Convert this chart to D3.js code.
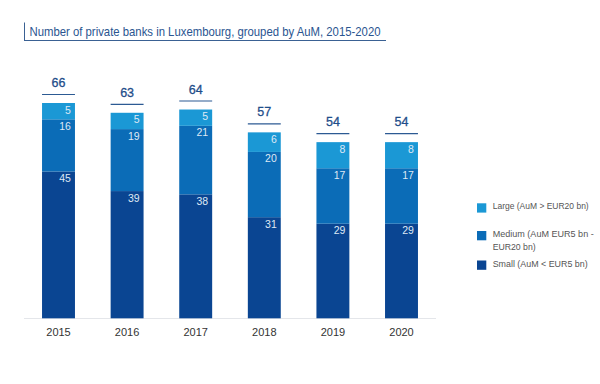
<!DOCTYPE html>
<html><head><meta charset="utf-8">
<script src="https://cdn.jsdelivr.net/npm/d3@7/dist/d3.min.js"></script>
<style>
html,body{margin:0;padding:0;background:#fff;}
svg{display:block;font-family:"Liberation Sans",Arial,sans-serif;}
</style></head><body>
<svg id="c" width="600" height="384"></svg>
<script>
const years = ["2015","2016","2017","2018","2019","2020"];
const small = [45,39,38,31,29,29];
const medium = [16,19,21,20,17,17];
const large = [5,5,5,6,8,8];
const totals = [66,63,64,57,54,54];
const title = "Number of private banks in Luxembourg, grouped by AuM, 2015-2020";

const colors = {small:"#0a4592", medium:"#0b6cb7", large:"#1b98d5"};
const svg = d3.select("#c");

const x = d3.scaleBand().domain(years).range([24.2,435.8]).paddingInner(0.52).paddingOuter(0.26);
const y = d3.scaleLinear().domain([0,66]).range([318.3,103]);

const rows = years.map((yr,i)=>({year:yr, small:small[i], medium:medium[i], large:large[i], total:totals[i]}));
const stack = d3.stack().keys(["small","medium","large"])(rows);

// title
svg.append("line").attr("x1",24.5).attr("x2",24.5).attr("y1",22.5).attr("y2",40.5).attr("stroke","#3a6193").attr("stroke-width",1);
svg.append("line").attr("x1",24).attr("x2",386).attr("y1",40.5).attr("y2",40.5).attr("stroke","#3a6193").attr("stroke-width",1);
svg.append("text").attr("x",29.5).attr("y",35.7).attr("fill","#2a5590").attr("font-size",12.6)
  .attr("textLength",351).attr("lengthAdjust","spacingAndGlyphs").text(title);

// baseline
svg.append("line").attr("x1",24).attr("x2",436).attr("y1",318.5).attr("y2",318.5).attr("stroke","#e4e6ea").attr("stroke-width",1);

// bars
const g = svg.append("g");
stack.forEach(layer=>{
  const key = layer.key;
  g.selectAll(null).data(layer).enter().append("rect")
    .attr("x",d=>x(d.data.year)).attr("width",x.bandwidth())
    .attr("y",d=>y(d[1])).attr("height",d=>y(d[0])-y(d[1]))
    .attr("fill",colors[key]);
  g.selectAll(null).data(layer).enter().append("text")
    .attr("x",d=>x(d.data.year)+x.bandwidth()-4)
    .attr("y",d=>y(d[1])+10.5)
    .attr("text-anchor","end").attr("font-size",10.5).attr("fill","#dfe9f5")
    .text(d=>d.data[key]);
});

// totals
rows.forEach(r=>{
  const top = y(r.total);
  g.append("line").attr("x1",x(r.year)).attr("x2",x(r.year)+x.bandwidth())
    .attr("y1",top-8.5).attr("y2",top-8.5).attr("stroke","#2c5a93").attr("stroke-width",1.2);
  g.append("text").attr("x",x(r.year)+x.bandwidth()/2).attr("y",top-16)
    .attr("text-anchor","middle").attr("font-size",12.5).attr("fill","#1f4e8a")
    .attr("stroke","#1f4e8a").attr("stroke-width",0.3)
    .text(r.total);
});

// x axis labels
const xa = svg.append("g").attr("transform","translate(0,318.5)")
  .call(d3.axisBottom(x).tickSize(0).tickPadding(10));
xa.select(".domain").remove();
xa.selectAll("text").attr("font-size",11).attr("fill","#333").attr("font-family","Liberation Sans, Arial, sans-serif");

// legend
const leg = [
  {key:"large", lines:["Large (AuM > EUR20 bn)"], w:[96], y:203.3, ty:[209]},
  {key:"medium", lines:["Medium (AuM EUR5 bn -","EUR20 bn)"], w:[101,43], y:231, ty:[236.7,250]},
  {key:"small", lines:["Small (AuM < EUR5 bn)"], w:[95], y:260.5, ty:[266.7]}
];
const lg = svg.append("g");
leg.forEach(l=>{
  lg.append("rect").attr("x",477).attr("y",l.y).attr("width",9.3).attr("height",9.3).attr("fill",colors[l.key]);
  l.lines.forEach((t,i)=>{
    lg.append("text").attr("x",492.7).attr("y",l.ty[i]).attr("font-size",8.8).attr("fill","#555")
      .attr("textLength",l.w[i]).attr("lengthAdjust","spacingAndGlyphs").text(t);
  });
});
</script></body></html>
